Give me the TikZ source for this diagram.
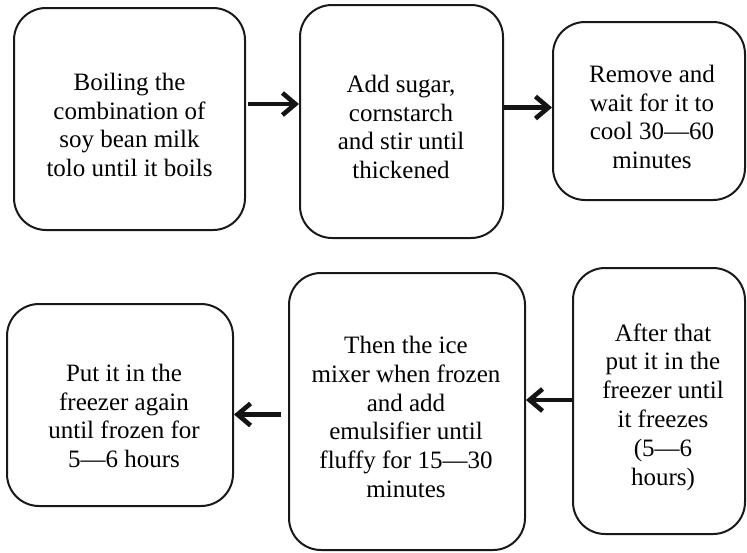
\documentclass[tikz,border=0pt]{standalone}
\usepackage{fontspec}
\setmainfont{Liberation Serif}
\usetikzlibrary{arrows.meta,calc}
\begin{document}
\begin{tikzpicture}[x=1pt,y=-1pt,
  stepbox/.style={draw=black!90, line width=2pt, rounded corners=32pt, inner sep=0pt},
  txt/.style={align=center, font=\fontsize{25pt}{28.8pt}\selectfont, inner sep=0pt},
  arr/.style={line width=4.6pt, -{Straight Barb[length=13pt,width=22pt]}, draw=black!92}]
\useasboundingbox (0,0) rectangle (747,552);
% top row
\node[stepbox, minimum width=231pt, minimum height=222pt] (b1) at (129.5,119) {};
\node[stepbox, minimum width=203pt, minimum height=233pt] (b2) at (401.5,121.5) {};
\node[stepbox, minimum width=192pt, minimum height=178pt] (b3) at (649,111) {};
% bottom row
\node[stepbox, minimum width=226pt, minimum height=202pt] (b4) at (120,405) {};
\node[stepbox, minimum width=236pt, minimum height=277pt] (b5) at (407,411.5) {};
\node[stepbox, minimum width=172pt, minimum height=266pt] (b6) at (659,401) {};
% texts
\node[txt] (t1) at (129.5,125) {Boiling the\\combination of\\soy bean milk\\tolo until it boils};
\node[txt] (t2) at (401,127) {Add sugar,\\cornstarch\\and stir until\\thickened};
\node[txt] (t3) at (652,117) {Remove and\\wait for it to\\cool 30—60\\minutes};
\node[txt] (t4) at (124,416) {Put it in the\\freezer again\\until frozen for\\5—6 hours};
\node[txt] (t5) at (406,417) {Then the ice\\mixer when frozen\\and add\\emulsifier until\\fluffy for 15—30\\minutes};
\node[txt] (t6) at (663,407) {After that\\put it in the\\freezer until\\it freezes\\(5—6\\hours)};
% arrows
\draw[arr] ([yshift=15pt,xshift=2pt]b1.east) -- ([yshift=15pt]b1.east -| b2.west);
\draw[arr] ([yshift=14pt]b2.east) -- ([yshift=14pt]b2.east -| b3.west);
\draw[arr] ([yshift=1pt]b6.west) -- ([yshift=1pt]b6.west -| b5.east);
\draw[arr] ([yshift=-3pt,xshift=-7pt]b5.west) -- ([yshift=-3pt]b5.west -| b4.east);
\end{tikzpicture}
\end{document}
